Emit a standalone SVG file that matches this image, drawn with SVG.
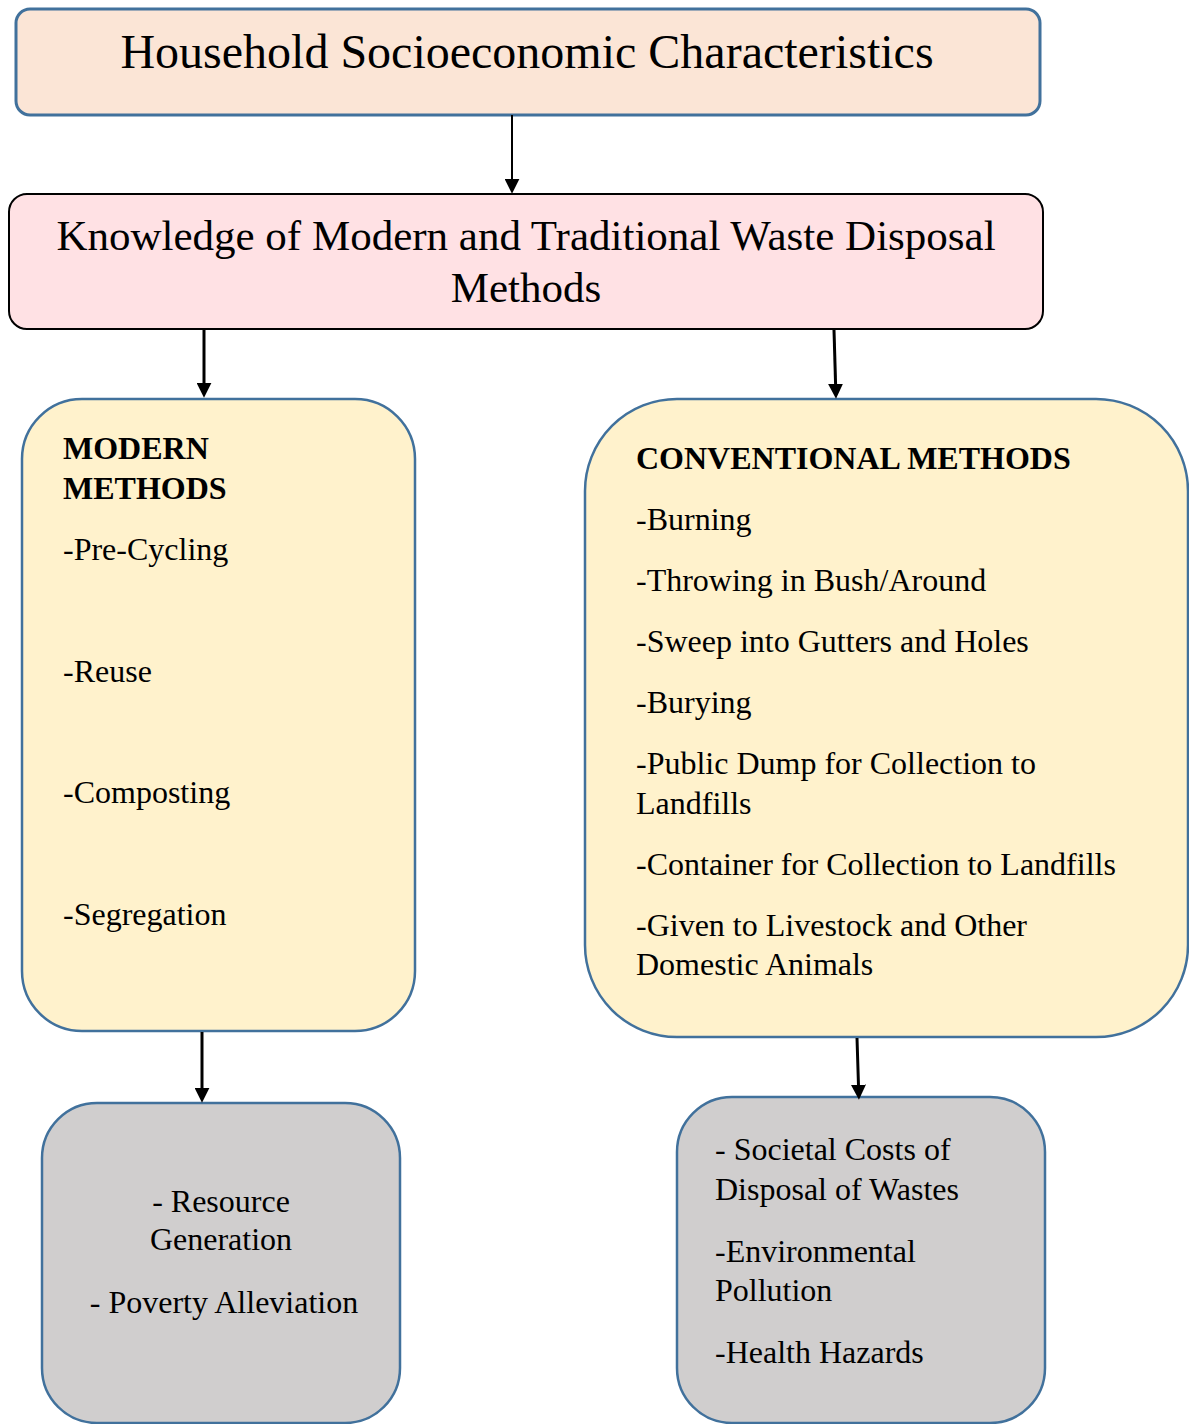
<svg xmlns="http://www.w3.org/2000/svg" width="1189" height="1424" viewBox="0 0 1189 1424">
<style>
text{font-family:"Liberation Serif","Times New Roman",serif;fill:#000}
.t48{font-size:48px}
.t42{font-size:43px}
.t32{font-size:32px}
.b{font-weight:bold}
.mid{text-anchor:middle}
.blue{stroke:#41719c;stroke-width:2.5}
.conn line{stroke:#000;stroke-width:3;fill:none}
</style>
<defs>
<marker id="ah" viewBox="0 0 14 14" markerWidth="15" markerHeight="15" markerUnits="userSpaceOnUse" refX="4" refY="7" orient="auto">
<path d="M0,0 L14,7 L0,14 z" fill="#000"/>
</marker>
</defs>
<rect width="1189" height="1424" fill="#fff"/>

<g id="household">
<rect x="16" y="9" width="1024" height="106" rx="14" fill="#fbe5d6" stroke="#41719c" stroke-width="3"/>
<text class="t48 mid" x="527" y="68">Household Socioeconomic Characteristics</text>
</g>

<g id="knowledge">
<rect x="9" y="194" width="1034" height="135" rx="18" fill="#ffe1e4" stroke="#000" stroke-width="2"/>
<text class="t42 mid" x="526" y="250">Knowledge of Modern and Traditional Waste Disposal</text>
<text class="t42 mid" x="526" y="302">Methods</text>
</g>

<g id="modern">
<rect x="22" y="399" width="393" height="632" rx="60" fill="#fff2cc" class="blue"/>
<text class="t32 b" x="63" y="459">MODERN</text>
<text class="t32 b" x="63" y="499">METHODS</text>
<text class="t32" x="63" y="560">-Pre-Cycling</text>
<text class="t32" x="63" y="682">-Reuse</text>
<text class="t32" x="63" y="803">-Composting</text>
<text class="t32" x="63" y="925">-Segregation</text>
</g>

<g id="conventional">
<rect x="585" y="399" width="603" height="638" rx="92" fill="#fff2cc" class="blue"/>
<text class="t32 b" x="636" y="469">CONVENTIONAL METHODS</text>
<text class="t32" x="636" y="530">-Burning</text>
<text class="t32" x="636" y="591">-Throwing in Bush/Around</text>
<text class="t32" x="636" y="652">-Sweep into Gutters and Holes</text>
<text class="t32" x="636" y="713">-Burying</text>
<text class="t32" x="636" y="774">-Public Dump for Collection to</text>
<text class="t32" x="636" y="814">Landfills</text>
<text class="t32" x="636" y="875">-Container for Collection to Landfills</text>
<text class="t32" x="636" y="936">-Given to Livestock and Other</text>
<text class="t32" x="636" y="975">Domestic Animals</text>
</g>

<g id="benefits">
<rect x="42" y="1103" width="358" height="320" rx="55" fill="#d0cece" class="blue"/>
<text class="t32 mid" x="221" y="1212">- Resource</text>
<text class="t32 mid" x="221" y="1250">Generation</text>
<text class="t32 mid" x="224" y="1313">- Poverty Alleviation</text>
</g>

<g id="costs">
<rect x="677" y="1097" width="368" height="326" rx="55" fill="#d0cece" class="blue"/>
<text class="t32" x="715" y="1160">- Societal Costs of</text>
<text class="t32" x="715" y="1200">Disposal of Wastes</text>
<text class="t32" x="715" y="1262">-Environmental</text>
<text class="t32" x="715" y="1301">Pollution</text>
<text class="t32" x="715" y="1363">-Health Hazards</text>
</g>

<g id="connectors" class="conn">
<line x1="512" y1="115" x2="512" y2="183" style="stroke-width:2" marker-end="url(#ah)"/>
<line x1="204" y1="330" x2="204" y2="387" marker-end="url(#ah)"/>
<line x1="834" y1="330" x2="835.7" y2="388" marker-end="url(#ah)"/>
<line x1="202" y1="1032" x2="202" y2="1092" marker-end="url(#ah)"/>
<line x1="857" y1="1038" x2="858.6" y2="1089" marker-end="url(#ah)"/>
</g>
</svg>
